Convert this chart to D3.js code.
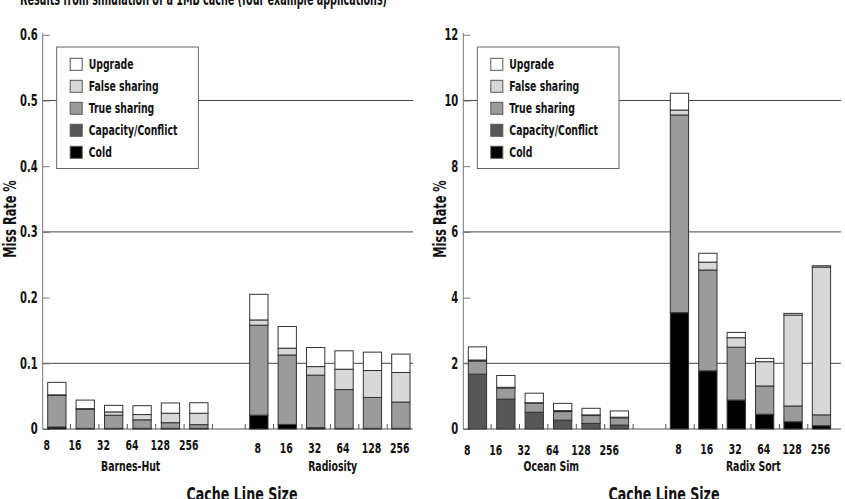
<!DOCTYPE html>
<html>
<head>
<meta charset="utf-8">
<script src="https://cdn.jsdelivr.net/npm/d3@7"></script>
<style>
  body { margin: 0; background: #fff; }
  svg text { font-family: "DejaVu Sans Condensed", "Liberation Sans Narrow", sans-serif; font-weight: bold; fill: #111; }
</style>
</head>
<body>
<div id="chart"></div>
<script>
// ---- data ----
const sizes = ["8", "16", "32", "64", "128", "256"];
const components = ["Cold", "Capacity/Conflict", "True sharing", "False sharing", "Upgrade"];
const legendOrder = ["Upgrade", "False sharing", "True sharing", "Capacity/Conflict", "Cold"];

// each row: cold, capacity/conflict, true sharing, false sharing, upgrade (miss rate %)
const barnesHut = [
  [0.003, 0, 0.048, 0.001, 0.019],
  [0.001, 0, 0.029, 0.001, 0.013],
  [0.001, 0, 0.020, 0.005, 0.010],
  [0.001, 0, 0.013, 0.008, 0.0135],
  [0.001, 0, 0.0086, 0.0144, 0.0156],
  [0.001, 0, 0.0056, 0.0174, 0.016]
];
const radiosity = [
  [0.021, 0, 0.137, 0.008, 0.039],
  [0.007, 0, 0.1056, 0.0104, 0.033],
  [0.002, 0, 0.080, 0.013, 0.029],
  [0.001, 0, 0.059, 0.031, 0.028],
  [0.001, 0, 0.047, 0.041, 0.028],
  [0.001, 0, 0.040, 0.045, 0.028]
];
const oceanSim = [
  [0, 1.67, 0.40, 0.03, 0.40],
  [0, 0.91, 0.34, 0.02, 0.36],
  [0, 0.51, 0.28, 0.01, 0.29],
  [0, 0.27, 0.26, 0.03, 0.22],
  [0, 0.17, 0.24, 0.02, 0.20],
  [0, 0.12, 0.22, 0.02, 0.19]
];
const radixSort = [
  [3.54, 0, 6.02, 0.15, 0.51],
  [1.77, 0, 3.07, 0.24, 0.27],
  [0.88, 0, 1.61, 0.29, 0.16],
  [0.45, 0, 0.86, 0.74, 0.10],
  [0.22, 0, 0.48, 2.77, 0.05],
  [0.10, 0, 0.33, 4.50, 0.04]
];

const leftTicks = [0, 0.1, 0.2, 0.3, 0.4, 0.5, 0.6];
const leftGrid = [0.1, 0.3, 0.5];
const rightTicks = [0, 2, 4, 6, 8, 10, 12];
const rightGrid = [2, 6, 10];

const colors = {
  "Cold": "#000000",
  "Capacity/Conflict": "#565656",
  "True sharing": "#9b9b9b",
  "False sharing": "#d8d8d8",
  "Upgrade": "#ffffff"
};

const width = 845, height = 499;
const svg = d3.select("#chart").append("svg")
  .attr("width", width)
  .attr("height", height);

// title (cut off at top)
svg.append("text")
  .attr("x", 20)
  .attr("y", 5)
  .attr("textLength", 367)
  .attr("lengthAdjust", "spacingAndGlyphs")
  .style("font-size", "17px")
  .text("Results from simulation of a 1MB cache (four example applications)");

function panel(opt) {
  const ax = opt.ax;
  const y = d3.scaleLinear().domain([0, opt.max]).range([429, 34.8]);
  const g = svg.append("g");

  // gridlines
  g.selectAll(".grid").data(opt.grid).enter().append("line")
    .attr("x1", ax).attr("x2", opt.right)
    .attr("y1", d => y(d)).attr("y2", d => y(d))
    .attr("stroke", "#444").attr("stroke-width", 1);

  // y axis
  const axis = g.append("g")
    .attr("transform", `translate(${ax},0)`)
    .call(d3.axisLeft(y).tickValues(opt.ticks).tickSize(-7).tickPadding(5).tickFormat(opt.fmt));
  axis.select(".domain").attr("stroke", "#777").attr("d", `M0,${y(0)}V${y(opt.max) - 2}`);
  axis.selectAll(".tick line").attr("stroke", "#777");
  axis.selectAll(".tick text").attr("class", "cx").style("font-size", "15px");

  // baseline
  g.append("line")
    .attr("x1", ax).attr("x2", opt.right)
    .attr("y1", y(0)).attr("y2", y(0))
    .attr("stroke", "#555").attr("stroke-width", 1.2);

  const outer = d3.scaleBand().domain(opt.apps.map(a => a.name)).range([ax + 5, ax + 5 + 2 * 202]);
  const inner = d3.scaleBand().domain(sizes).range([0, 160.3]).paddingInner(0.356);
  const bw = inner.bandwidth();

  opt.apps.forEach((app, ai) => {
    const gx = outer(app.name);
    const stack = d3.stack().keys(d3.range(components.length))(app.data);

    // small ticks on baseline
    g.selectAll(null).data(sizes).enter().append("line")
      .attr("x1", d => ai === 0 ? gx + inner(d) + bw + 4.5 : gx + inner(d) - 4.5)
      .attr("x2", d => ai === 0 ? gx + inner(d) + bw + 4.5 : gx + inner(d) - 4.5)
      .attr("y1", y(0)).attr("y2", y(0) - 5)
      .attr("stroke", "#555");

    stack.forEach((layer, li) => {
      g.selectAll(null).data(layer).enter().append("rect")
        .attr("x", (d, i) => gx + inner(sizes[i]))
        .attr("width", bw)
        .attr("y", d => y(d[1]))
        .attr("height", d => y(d[0]) - y(d[1]))
        .attr("fill", colors[components[li]])
        .attr("stroke", d => (d[1] - d[0]) > 0 ? "#333" : "none")
        .attr("stroke-width", 1);
    });

    // size labels
    g.selectAll(null).data(sizes).enter().append("text")
      .attr("class", "cx")
      .attr("x", d => ai === 0 ? gx + inner(d) - 1 : gx + inner(d) + bw / 2 - 1)
      .attr("y", opt.labelY[ai])
      .attr("text-anchor", "middle")
      .style("font-size", "14px")
      .text(d => d);

    g.append("text")
      .attr("class", "cx")
      .attr("x", gx + 80 + 3)
      .attr("y", 471)
      .attr("text-anchor", "middle")
      .style("font-size", "14px")
      .text(app.name);
  });

  // y title
  g.append("text")
    .attr("class", "cx")
    .attr("transform", `translate(${opt.titleX},219) rotate(-90)`)
    .attr("text-anchor", "middle")
    .style("font-size", "17px")
    .text("Miss Rate %");

  // x title
  g.append("text")
    .attr("class", "cx")
    .attr("x", opt.xTitle)
    .attr("y", 501)
    .attr("text-anchor", "middle")
    .style("font-size", "19px")
    .text("Cache Line Size");

  // legend
  const lg = g.append("g").attr("transform", `translate(${ax + 14},47)`);
  lg.append("rect")
    .attr("width", 141.7).attr("height", 121.5)
    .attr("fill", "#fff").attr("stroke", "#666");
  const row = lg.selectAll(".row").data(legendOrder).enter().append("g")
    .attr("transform", (d, i) => `translate(13.5,${17.3 + i * 22})`);
  row.append("rect")
    .attr("x", 0).attr("y", -6).attr("width", 12).attr("height", 12)
    .attr("fill", d => colors[d]).attr("stroke", "#555");
  row.append("text")
    .attr("class", "cx")
    .attr("x", 18.5).attr("y", 5)
    .style("font-size", "14px")
    .text(d => d);
}

panel({
  ax: 42.7, right: 413, max: 0.6,
  ticks: leftTicks, grid: leftGrid,
  fmt: d => d === 0 ? "0" : d3.format(".1f")(d),
  apps: [{ name: "Barnes-Hut", data: barnesHut }, { name: "Radiosity", data: radiosity }],
  labelY: [450, 453], titleX: 16, xTitle: 242
});

panel({
  ax: 463.3, right: 841, max: 12,
  ticks: rightTicks, grid: rightGrid,
  fmt: d3.format("d"),
  apps: [{ name: "Ocean Sim", data: oceanSim }, { name: "Radix Sort", data: radixSort }],
  labelY: [454.5, 454], titleX: 446, xTitle: 664
});

// narrow the glyphs to mimic a condensed face
svg.selectAll("text.cx").each(function () {
  const w = this.getComputedTextLength();
  d3.select(this).attr("textLength", w * 0.74).attr("lengthAdjust", "spacingAndGlyphs");
});
</script>
</body>
</html>
